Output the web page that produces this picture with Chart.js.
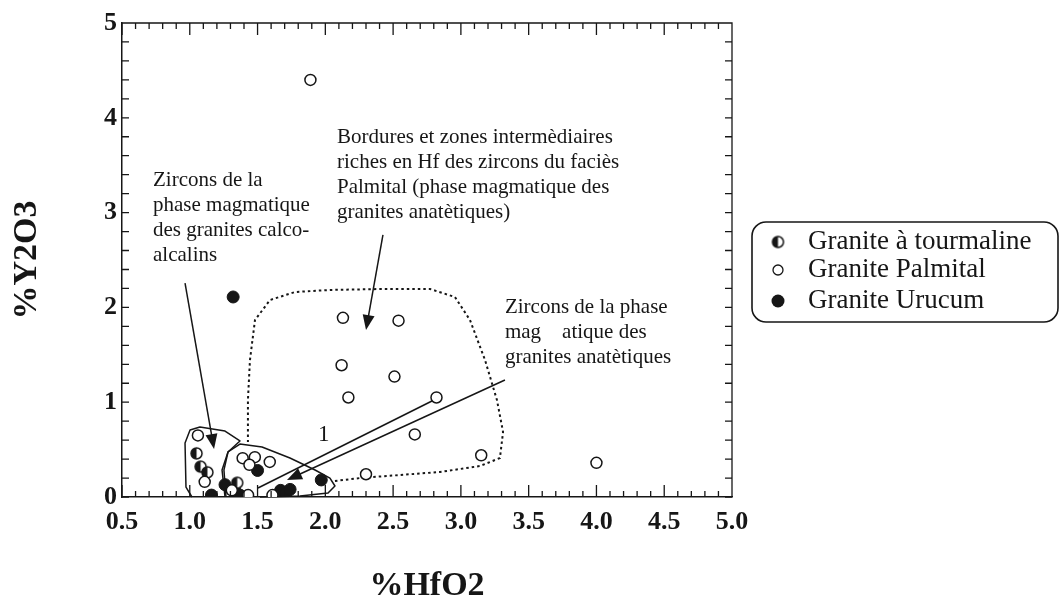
<!DOCTYPE html>
<html lang="fr">
<head>
<meta charset="utf-8">
<title>%Y2O3 en fonction de %HfO2</title>
<script src="https://cdn.jsdelivr.net/npm/chart.js@4.4.0/dist/chart.umd.min.js"></script>
<style>
  html, body { margin: 0; padding: 0; background: #fff; }
  #box { position: relative; width: 1061px; height: 603px; }
</style>
</head>
<body>
<div id="box"><canvas id="grafico" width="1061" height="603"></canvas></div>
<script>
// --- Données (x = %HfO2, y = %Y2O3) ---
const palmitalX = [1.89, 2.13, 2.54, 2.12, 2.51, 2.17, 2.82, 2.66, 3.15, 2.30, 4.00,
                   1.06, 1.39, 1.48, 1.59, 1.44, 1.11, 1.31, 1.43, 1.61];
const palmitalY = [4.40, 1.89, 1.86, 1.39, 1.27, 1.05, 1.05, 0.66, 0.44, 0.24, 0.36,
                   0.65, 0.41, 0.42, 0.37, 0.34, 0.16, 0.07, 0.02, 0.02];

const tourmalineX = [1.05, 1.08, 1.13, 1.35];
const tourmalineY = [0.46, 0.32, 0.26, 0.15];

const urucumX = [1.32, 1.16, 1.26, 1.33, 1.37, 1.50, 1.67, 1.71, 1.74, 1.97];
const urucumY = [2.11, 0.02, 0.13, 0.08, 0.02, 0.28, 0.07, 0.04, 0.08, 0.18];

const etichetteLegenda = ["Granite à tourmaline", "Granite Palmital", "Granite Urucum"];

// contours des champs (en unités des axes)
const champCalcoAlcalin = [[1.016, 0], [0.972, 0.105], [0.965, 0.57], [1.002, 0.707], [1.075, 0.738],
  [1.26, 0.696], [1.37, 0.591], [1.282, 0.475], [1.252, 0.285], [1.267, 0]];
const champAnatectique = [[1.26, 0], [1.238, 0.285], [1.282, 0.475], [1.37, 0.559], [1.533, 0.527],
  [1.739, 0.411], [1.924, 0.285], [2.034, 0.2], [2.071, 0.116], [2.02, 0.042], [1.813, 0.011], [1.518, 0]];
const champPalmital = [[2.071, 0.169], [2.256, 0.2], [2.551, 0.232], [2.846, 0.264], [3.141, 0.327],
  [3.288, 0.411], [3.311, 0.686], [3.266, 1.023], [3.178, 1.445], [3.067, 1.867], [2.956, 2.11],
  [2.772, 2.194], [2.403, 2.194], [2.034, 2.184], [1.776, 2.162], [1.592, 2.078], [1.481, 1.867],
  [1.444, 1.445], [1.429, 1.023], [1.429, 0.58]];

// textes d'annotation : [x gauche, y première ligne, lignes]
const annotations = [
  [0.729, 3.344, ["Zircons de la", "phase magmatique", "des granites calco-", "alcalins"]],
  [2.086, 3.797, ["Bordures et zones intermèdiaires", "riches en Hf des zircons du faciès",
                  "Palmital (phase magmatique des", "granites anatètiques)"]],
  [3.325, 2.004, ["Zircons de la phase", "mag    atique des", "granites anatètiques"]]
];

const NERO = "#161616";

document.addEventListener("DOMContentLoaded", () => {
  const simboloMezzo = creaCerchioMezzoPieno(5.5);

  const tacche = { id: "tacche", afterDraw: disegnaTacche };
  const campi = { id: "campi", beforeDatasetsDraw: disegnaCampi };
  const legenda = { id: "legenda", afterDraw: (c) => disegnaLegenda(c, simboloMezzo) };

  new Chart(document.getElementById("grafico"), {
    type: "scatter",
    data: {
      datasets: [
        {
          label: etichetteLegenda[1],
          data: palmitalX.map((x, i) => ({ x, y: palmitalY[i] })),
          pointRadius: 5.5, borderWidth: 1.5,
          borderColor: NERO, backgroundColor: "#fff"
        },
        {
          label: etichetteLegenda[0],
          data: tourmalineX.map((x, i) => ({ x, y: tourmalineY[i] })),
          pointStyle: simboloMezzo, pointRadius: 6
        },
        {
          label: etichetteLegenda[2],
          data: urucumX.map((x, i) => ({ x, y: urucumY[i] })),
          pointRadius: 6, borderWidth: 1,
          borderColor: NERO, backgroundColor: NERO
        }
      ]
    },
    options: {
      responsive: false,
      animation: false,
      devicePixelRatio: 1,
      layout: { padding: { top: 23, right: 329, left: 0, bottom: 0 } },
      plugins: { legend: { display: false }, tooltip: { enabled: false } },
      scales: {
        x: {
          type: "linear", min: 0.5, max: 5,
          afterFit: (s) => { s.height = 106; },
          grid: { display: false, drawTicks: false },
          border: { display: true, color: NERO, width: 1.5 },
          ticks: {
            stepSize: 0.5, padding: 10, color: NERO,
            font: { family: "Liberation Serif", size: 26, weight: "bold" },
            callback: (v) => Number(v).toFixed(1)
          },
          title: {
            display: true, text: "%HfO2", color: NERO, padding: 0,
            font: { family: "Liberation Serif", size: 34, weight: "bold", lineHeight: 1 }
          }
        },
        y: {
          type: "linear", min: 0, max: 5,
          afterFit: (s) => { s.width = 122; },
          grid: { display: false, drawTicks: false },
          border: { display: true, color: NERO, width: 1.5 },
          ticks: {
            stepSize: 1, padding: 5, color: NERO,
            font: { family: "Liberation Serif", size: 26, weight: "bold" }
          },
          title: {
            display: true, text: "%Y2O3", color: NERO, padding: { top: 10, bottom: 0 },
            font: { family: "Liberation Serif", size: 34, weight: "bold", lineHeight: 1 }
          }
        }
      }
    },
    plugins: [campi, tacche, legenda]
  });
});

// petit cercle à moitié noir (gauche) pour le granite à tourmaline
function creaCerchioMezzoPieno(r) {
  const c = document.createElement("canvas");
  c.width = c.height = Math.ceil(2 * r + 4);
  const g = c.getContext("2d");
  const m = c.width / 2;
  g.fillStyle = "#fff";
  g.beginPath(); g.arc(m, m, r, 0, Math.PI * 2); g.fill();
  g.fillStyle = NERO;
  g.beginPath(); g.arc(m, m, r, Math.PI / 2, Math.PI * 1.5); g.closePath(); g.fill();
  g.strokeStyle = NERO; g.lineWidth = 1.5;
  g.beginPath(); g.arc(m, m, r, 0, Math.PI * 2); g.stroke();
  return c;
}

// tacches intérieures sur les quatre côtés + cadre haut/droite
function disegnaTacche(chart) {
  const { ctx, chartArea: a, scales: { x, y } } = chart;
  ctx.save();
  ctx.strokeStyle = NERO;
  ctx.lineWidth = 1.3;
  ctx.beginPath();
  ctx.moveTo(a.left, a.top); ctx.lineTo(a.right, a.top); ctx.lineTo(a.right, a.bottom);
  for (let i = 0; i <= 45; i++) {
    const xp = x.getPixelForValue(0.5 + i * 0.1);
    const lung = i % 5 === 0 ? 12 : 6;
    ctx.moveTo(xp, a.bottom); ctx.lineTo(xp, a.bottom - lung);
    ctx.moveTo(xp, a.top); ctx.lineTo(xp, a.top + lung);
  }
  for (let i = 0; i <= 25; i++) {
    const yp = y.getPixelForValue(i * 0.2);
    ctx.moveTo(a.left, yp); ctx.lineTo(a.left + 7, yp);
    ctx.moveTo(a.right, yp); ctx.lineTo(a.right - 7, yp);
  }
  ctx.stroke();
  ctx.restore();
}

function freccia(ctx, x0, y0, x1, y1) {
  const ang = Math.atan2(y1 - y0, x1 - x0);
  const L = 15, W = 6;
  ctx.beginPath();
  ctx.moveTo(x0, y0);
  ctx.lineTo(x1 - L * 0.6 * Math.cos(ang), y1 - L * 0.6 * Math.sin(ang));
  ctx.stroke();
  ctx.beginPath();
  ctx.moveTo(x1, y1);
  ctx.lineTo(x1 - L * Math.cos(ang) + W * Math.sin(ang), y1 - L * Math.sin(ang) - W * Math.cos(ang));
  ctx.lineTo(x1 - L * Math.cos(ang) - W * Math.sin(ang), y1 - L * Math.sin(ang) + W * Math.cos(ang));
  ctx.closePath();
  ctx.fill();
}

function disegnaCampi(chart) {
  const { ctx, scales: { x, y } } = chart;
  const px = (p) => [x.getPixelForValue(p[0]), y.getPixelForValue(p[1])];
  const poligono = (punti) => {
    ctx.beginPath();
    punti.map(px).forEach(([a, b], i) => (i ? ctx.lineTo(a, b) : ctx.moveTo(a, b)));
    ctx.stroke();
  };

  ctx.save();
  ctx.strokeStyle = NERO;
  ctx.fillStyle = NERO;
  ctx.lineJoin = "round";
  ctx.lineWidth = 1.5;
  poligono(champCalcoAlcalin);
  poligono(champAnatectique);

  ctx.setLineDash([2.5, 3]);
  ctx.lineWidth = 2;
  poligono(champPalmital);
  ctx.setLineDash([]);

  // flèches
  ctx.lineWidth = 1.5;
  let a = px([0.965, 2.257]), b = px([1.179, 0.506]);
  freccia(ctx, a[0], a[1], b[0], b[1]);
  a = px([2.425, 2.764]); b = px([2.30, 1.762]);
  freccia(ctx, a[0], a[1], b[0], b[1]);
  a = px([3.325, 1.234]); b = px([1.717, 0.179]);
  freccia(ctx, a[0], a[1], b[0], b[1]);
  poligono([[2.816, 1.034], [1.503, 0.095]]);

  // textes
  ctx.textBaseline = "middle";
  ctx.textAlign = "left";
  ctx.font = "23px 'Liberation Serif'";
  const p1 = px([1.946, 0.654]);
  ctx.fillText("1", p1[0], p1[1]);

  ctx.font = "21px 'Liberation Serif'";
  annotations.forEach(([ax, ay, righe]) => {
    const [tx, ty] = px([ax, ay]);
    righe.forEach((r, i) => ctx.fillText(r, tx, ty + i * 25));
  });
  ctx.restore();
}

function disegnaLegenda(chart, simboloMezzo) {
  const { ctx } = chart;
  ctx.save();
  ctx.strokeStyle = NERO;
  ctx.lineWidth = 1.6;
  ctx.beginPath();
  ctx.roundRect(752, 222, 306, 100, 14);
  ctx.stroke();

  const righe = [242, 270, 301];
  // symboles
  ctx.drawImage(simboloMezzo, 778 - simboloMezzo.width / 2, righe[0] - simboloMezzo.height / 2);
  ctx.lineWidth = 1.3;
  ctx.beginPath(); ctx.arc(778, righe[1], 5, 0, Math.PI * 2); ctx.stroke();
  ctx.fillStyle = NERO;
  ctx.beginPath(); ctx.arc(778, righe[2], 6.5, 0, Math.PI * 2); ctx.fill();

  ctx.font = "27px 'Liberation Serif'";
  ctx.textBaseline = "middle";
  etichetteLegenda.forEach((t, i) => ctx.fillText(t, 808, righe[i]));
  ctx.restore();
}
</script>
</body>
</html>
